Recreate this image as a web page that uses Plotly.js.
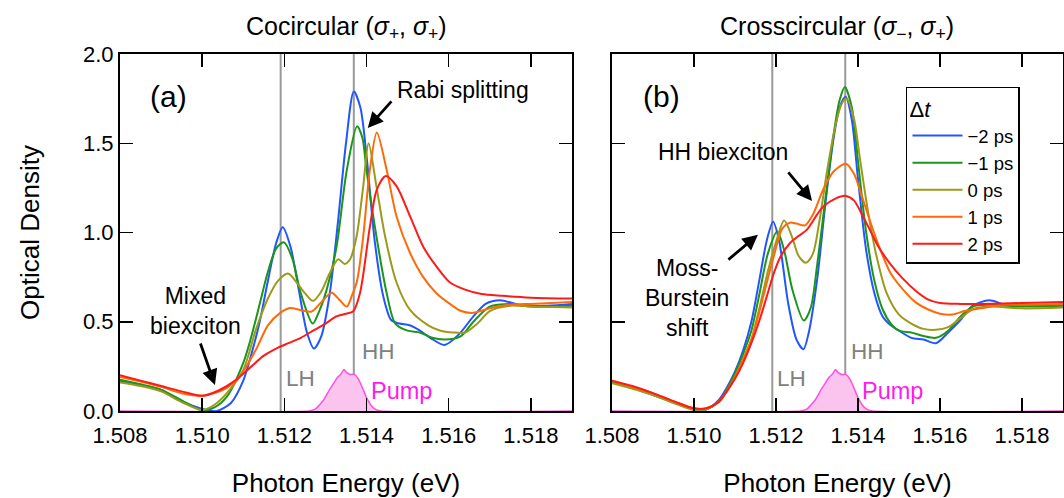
<!DOCTYPE html>
<html>
<head>
<meta charset="utf-8">
<script src="https://cdn.plot.ly/plotly-3.0.1.min.js"></script>
<style>html,body{margin:0;padding:0;background:#fff;}#chart{width:1064px;height:498px;}</style>
</head>
<body>
<div id="chart"></div>
<script>
// ---------- data (photon energy in eV, optical density) ----------
const seriesLabels = ['\u22122 ps', '\u22121 ps', '0 ps', '1 ps', '2 ps'];
const xTicks = [1.508, 1.510, 1.512, 1.514, 1.516, 1.518];
const yTicks = [0, 0.5, 1.0, 1.5, 2.0];
const exciton = [1.51191, 1.51369];          // LH, HH line energies
const excitonLabels = ['LH', 'HH'];

// Panel (a) cocircular
const aE_m2 = [1.5080,1.5085,1.5090,1.5095,1.5100,1.51035,1.5107,1.5110,1.5112,1.5114,1.5116,1.5118,1.51196,1.51215,1.51235,1.51255,1.51272,1.5129,1.5131,1.5133,1.5135,1.51369,1.51385,1.5140,1.5142,1.51441,1.5146,1.5148,1.51505,1.5153,1.51555,1.5159,1.51625,1.5166,1.5169,1.51725,1.5178,1.5184,1.5190];
const aOD_m2 = [0.170,0.145,0.118,0.055,0.012,0.000,0.045,0.170,0.320,0.500,0.730,0.940,1.030,0.920,0.680,0.440,0.350,0.420,0.650,1.050,1.500,1.790,1.700,1.430,0.950,0.640,0.510,0.490,0.480,0.450,0.410,0.370,0.430,0.530,0.600,0.620,0.590,0.590,0.600];
const aE_m1 = [1.5080,1.5085,1.5090,1.5095,1.5100,1.5103,1.5106,1.5110,1.5112,1.5114,1.5116,1.5118,1.51199,1.5122,1.5124,1.51269,1.51285,1.51303,1.51327,1.51352,1.51377,1.5139,1.5140,1.51424,1.51449,1.5147,1.5150,1.5153,1.5156,1.5159,1.5163,1.5166,1.5170,1.5175,1.5180,1.5190];
const aOD_m1 = [0.175,0.15,0.12,0.06,0.005,0.02,0.08,0.27,0.42,0.60,0.78,0.91,0.945,0.85,0.66,0.49,0.56,0.68,0.92,1.35,1.595,1.53,1.35,0.98,0.66,0.49,0.45,0.44,0.41,0.40,0.42,0.50,0.585,0.60,0.585,0.59];
const aE_0 = [1.5080,1.5085,1.5090,1.5095,1.5100,1.5103,1.5106,1.5110,1.5113,1.5116,1.51185,1.51209,1.5123,1.5125,1.5127,1.5129,1.5131,1.51331,1.51347,1.5136,1.51376,1.51392,1.51405,1.51424,1.51445,1.51473,1.51506,1.5155,1.5158,1.5161,1.5164,1.5167,1.5170,1.5175,1.5180,1.5190];
const aOD_0 = [0.16,0.14,0.11,0.05,0.005,0.035,0.10,0.23,0.45,0.63,0.73,0.77,0.72,0.66,0.617,0.67,0.77,0.85,0.824,0.85,0.98,1.26,1.50,1.26,0.98,0.72,0.566,0.48,0.45,0.44,0.44,0.49,0.56,0.59,0.585,0.58];
const aE_p1 = [1.5080,1.5085,1.5090,1.5095,1.5100,1.5103,1.5106,1.5109,1.5113,1.5116,1.5119,1.51214,1.5124,1.51266,1.5129,1.51315,1.51335,1.51352,1.51365,1.51377,1.51392,1.51408,1.51425,1.51449,1.51473,1.51506,1.51538,1.5157,1.51603,1.5163,1.5166,1.5170,1.5175,1.5180,1.5190];
const aOD_p1 = [0.19,0.165,0.135,0.10,0.085,0.10,0.13,0.19,0.34,0.48,0.55,0.577,0.565,0.557,0.61,0.663,0.62,0.585,0.65,0.73,0.98,1.35,1.56,1.35,1.09,0.885,0.75,0.66,0.60,0.56,0.55,0.575,0.595,0.60,0.61];
const aE_p2 = [1.5080,1.5085,1.5090,1.5095,1.5100,1.5104,1.5108,1.5112,1.5115,1.5118,1.5121,1.5124,1.5127,1.5130,1.51327,1.5135,1.51367,1.51384,1.51408,1.51425,1.51447,1.51473,1.51506,1.51538,1.5157,1.51603,1.5164,1.5168,1.5173,1.5180,1.5190];
const aOD_p2 = [0.20,0.17,0.14,0.11,0.085,0.115,0.17,0.25,0.31,0.35,0.38,0.41,0.45,0.49,0.53,0.545,0.557,0.66,1.03,1.24,1.317,1.26,1.09,0.92,0.81,0.72,0.68,0.655,0.645,0.635,0.63];

// Panel (b) crosscircular
const bE_m2 = [1.5080,1.5085,1.5090,1.5095,1.5100,1.5103,1.5106,1.5108,1.5110,1.5112,1.5114,1.5116,1.51178,1.51193,1.51208,1.5123,1.5125,1.51267,1.5128,1.5130,1.5132,1.5134,1.51355,1.5137,1.51385,1.5140,1.5142,1.5144,1.5146,1.5148,1.5150,1.5153,1.5156,1.5159,1.5162,1.5165,1.5168,1.5172,1.5176,1.5182,1.5190];
const bOD_m2 = [0.165,0.13,0.09,0.05,0.01,0.01,0.06,0.13,0.22,0.34,0.50,0.74,0.96,1.06,0.95,0.60,0.40,0.346,0.44,0.73,1.15,1.52,1.70,1.76,1.63,1.30,0.90,0.66,0.53,0.48,0.45,0.41,0.40,0.38,0.44,0.51,0.59,0.62,0.595,0.59,0.595];
const bE_m1 = [1.5080,1.5085,1.5090,1.5095,1.5100,1.5103,1.5106,1.5108,1.5110,1.5112,1.5114,1.5116,1.5118,1.51203,1.5122,1.5124,1.51268,1.51285,1.5130,1.5132,1.5134,1.51355,1.51368,1.51385,1.5140,1.5142,1.5144,1.5146,1.5148,1.5150,1.5153,1.5156,1.5159,1.5162,1.5165,1.5168,1.5172,1.5180,1.5190];
const bOD_m1 = [0.16,0.13,0.095,0.05,0.01,0.01,0.05,0.12,0.21,0.32,0.45,0.66,0.88,1.005,0.90,0.68,0.507,0.58,0.81,1.18,1.54,1.74,1.815,1.70,1.40,1.00,0.73,0.57,0.49,0.45,0.44,0.42,0.41,0.45,0.53,0.585,0.595,0.585,0.59];
const bE_0 = [1.5080,1.5085,1.5090,1.5095,1.5100,1.5103,1.5106,1.5108,1.5110,1.5112,1.5114,1.5116,1.5118,1.51198,1.5122,1.5124,1.51255,1.51273,1.5129,1.51305,1.51325,1.51345,1.5136,1.51372,1.5139,1.51405,1.51425,1.51445,1.5147,1.5150,1.5153,1.5156,1.5159,1.5162,1.5165,1.5168,1.5172,1.5180,1.5190];
const bOD_0 = [0.155,0.125,0.09,0.045,0.005,0.01,0.05,0.11,0.19,0.29,0.40,0.58,0.78,0.93,1.067,0.97,0.87,0.83,0.88,1.05,1.35,1.60,1.72,1.75,1.64,1.41,1.11,0.87,0.66,0.54,0.49,0.46,0.455,0.47,0.52,0.57,0.585,0.575,0.58];
const bE_p1 = [1.5080,1.5085,1.5090,1.5095,1.5100,1.5103,1.5106,1.5108,1.5110,1.5112,1.5114,1.5116,1.5118,1.51195,1.51215,1.51234,1.5125,1.51271,1.5129,1.51315,1.5134,1.5137,1.5139,1.5141,1.5143,1.5145,1.5148,1.5151,1.5154,1.5157,1.5160,1.5163,1.5166,1.5170,1.5175,1.5180,1.5190];
const bOD_p1 = [0.17,0.135,0.10,0.055,0.015,0.015,0.05,0.11,0.19,0.29,0.40,0.56,0.74,0.87,1.02,1.055,1.05,1.04,1.10,1.24,1.34,1.385,1.33,1.20,1.06,0.93,0.77,0.68,0.61,0.57,0.545,0.54,0.56,0.575,0.595,0.595,0.60];
const bE_p2 = [1.5080,1.5085,1.5090,1.5095,1.5100,1.5103,1.5106,1.5108,1.5110,1.5112,1.5114,1.5116,1.5118,1.51193,1.5121,1.51234,1.51255,1.51275,1.5130,1.51315,1.51345,1.5137,1.5139,1.5141,1.5143,1.5145,1.5148,1.5151,1.5154,1.5157,1.5160,1.5165,1.5170,1.5180,1.5190];
const bOD_p2 = [0.17,0.14,0.10,0.055,0.015,0.015,0.05,0.11,0.18,0.27,0.38,0.51,0.66,0.76,0.86,0.94,0.98,1.015,1.10,1.145,1.19,1.205,1.18,1.10,1.01,0.92,0.82,0.74,0.675,0.625,0.605,0.60,0.60,0.605,0.61];

// Pump spectrum (same in both panels)
const pumpE = [1.5080,1.5126,1.51275,1.51295,1.5131,1.5132,1.5133,1.51339,1.51345,1.51352,1.5136,1.5137,1.5138,1.5139,1.5140,1.5141,1.5142,1.51435,1.5190];
const pumpOD = [0,0,0.01,0.06,0.12,0.155,0.19,0.21,0.232,0.215,0.205,0.205,0.18,0.13,0.075,0.035,0.012,0,0];

// ---------- styling ----------
const FONT = 'Liberation Sans, Arial, Helvetica, sans-serif';
const colors = ['#2156ff', '#1b961b', '#9c9a1c', '#ff6a08', '#ff1a1a'];
const panelA = [[aE_m2,aOD_m2],[aE_m1,aOD_m1],[aE_0,aOD_0],[aE_p1,aOD_p1],[aE_p2,aOD_p2]];
const panelB = [[bE_m2,bOD_m2],[bE_m1,bOD_m1],[bE_0,bOD_0],[bE_p1,bOD_p1],[bE_p2,bOD_p2]];

const traces = [];
[['x','y'],['x2','y2']].forEach(([xa, ya]) => {
  traces.push({x: pumpE, y: pumpOD, xaxis: xa, yaxis: ya, type: 'scatter', mode: 'lines',
    fill: 'tozeroy', fillcolor: '#fbc4ee', line: {color: '#ff4fe0', width: 1.5, shape: 'spline', smoothing: 0.5},
    showlegend: false, hoverinfo: 'skip'});
});
panelA.forEach((s, i) => traces.push({x: s[0], y: s[1], xaxis: 'x', yaxis: 'y', type: 'scatter', mode: 'lines',
  name: seriesLabels[i], line: {color: colors[i], width: 2, shape: 'spline', smoothing: 0.8}, showlegend: false}));
panelB.forEach((s, i) => traces.push({x: s[0], y: s[1], xaxis: 'x2', yaxis: 'y2', type: 'scatter', mode: 'lines',
  name: seriesLabels[i], line: {color: colors[i], width: 2, shape: 'spline', smoothing: 0.8}, showlegend: true}));

const axBase = {showline: true, linecolor: 'black', linewidth: 2, mirror: 'ticks', ticks: 'inside',
  ticklen: 13, tickwidth: 1.5, tickcolor: 'black', showgrid: false, zeroline: false,
  tickfont: {family: FONT, size: 22, color: 'black'}};
const xBase = Object.assign({}, axBase, {range: [1.508, 1.519], tickvals: xTicks, tickformat: '.3f',
  ticklabelstandoff: 4,
  title: {text: 'Photon Energy (eV)', font: {family: FONT, size: 26, color: 'black'}, standoff: 26}});
const yBase = Object.assign({}, axBase, {range: [0, 2], tickvals: yTicks, tickformat: '.1f'});

const shapes = [];
['x','x2'].forEach(xa => exciton.forEach(e => shapes.push({type: 'line', xref: xa, yref: xa === 'x' ? 'y domain' : 'y2 domain',
  x0: e, x1: e, y0: 0, y1: 1, line: {color: '#999999', width: 2}, layer: 'below'})));

const ANN = 23;
const txt = (xa, ya, x, y, text, extra) => Object.assign({xref: xa, yref: ya, x: x, y: y, text: text, showarrow: false,
  xanchor: 'center', yanchor: 'middle', font: {family: FONT, size: ANN, color: 'black'}}, extra || {});
const arrow = (xa, ya, x, y, ax, ay) => ({xref: xa, yref: ya, x: x, y: y, ax: ax, ay: ay, text: '', showarrow: true,
  arrowhead: 2, arrowsize: 1.1, arrowwidth: 2.8, arrowcolor: 'black'});
const gray = {family: FONT, size: 22.5, color: '#808080'};
const pink = {family: FONT, size: 23.5, color: '#ff1ae8'};

const annotations = [
  txt('paper','paper', 0.2397, 1.0728, 'Cocircular (<i>\u03c3</i><sub>+</sub>, <i>\u03c3</i><sub>+</sub>)', {font: {family: FONT, size: 25, color: 'black'}}),
  txt('paper','paper', 0.7608, 1.0728, 'Crosscircular (<i>\u03c3</i><sub>\u2212</sub>, <i>\u03c3</i><sub>+</sub>)', {font: {family: FONT, size: 25, color: 'black'}}),
  txt('x','y', 1.50917, 1.76, '(a)', {font: {family: FONT, size: 30, color: 'black'}}),
  txt('x2','y2', 1.50920, 1.76, '(b)', {font: {family: FONT, size: 30, color: 'black'}}),
  txt('x','y', 1.51635, 1.80, 'Rabi splitting'),
  arrow('x','y', 1.51403, 1.586, 25, -28),
  txt('x','y', 1.50983, 0.56, 'Mixed<br>biexciton'),
  arrow('x','y', 1.51031, 0.146, -15, -43),
  txt('x2','y2', 1.51071, 1.45, 'HH biexciton'),
  arrow('x2','y2', 1.51288, 1.177, -25, -30),
  txt('x2','y2', 1.50983, 0.633, 'Moss-<br>Burstein<br>shift'),
  arrow('x2','y2', 1.51156, 0.987, -31, 26),
  txt('x','y', 1.51240, 0.18, excitonLabels[0], {font: gray}),
  txt('x','y', 1.51428, 0.336, excitonLabels[1], {font: gray}),
  txt('x','y', 1.51486, 0.112, 'Pump', {font: pink}),
  txt('x2','y2', 1.51239, 0.18, excitonLabels[0], {font: gray}),
  txt('x2','y2', 1.51424, 0.336, excitonLabels[1], {font: gray}),
  txt('x2','y2', 1.51483, 0.112, 'Pump', {font: pink})
];

const layout = {
  width: 1064, height: 498,
  margin: {l: 120, r: 1, t: 54, b: 87},
  paper_bgcolor: 'white', plot_bgcolor: 'white',
  font: {family: FONT, color: 'black'},
  xaxis: Object.assign({}, xBase, {domain: [0, 0.4793], anchor: 'y'}),
  xaxis2: Object.assign({}, xBase, {domain: [0.5217, 1], anchor: 'y2'}),
  yaxis: Object.assign({}, yBase, {domain: [0, 1], anchor: 'x',
    title: {text: 'Optical Density', font: {family: FONT, size: 26, color: 'black'}, standoff: 36}}),
  yaxis2: Object.assign({}, yBase, {domain: [0, 1], anchor: 'x2', showticklabels: false}),
  shapes: shapes,
  annotations: annotations,
  showlegend: true,
  legend: {x: 0.8335, y: 0.9076, xanchor: 'left', yanchor: 'top', bgcolor: 'white',
    bordercolor: 'black', borderwidth: 1.5, font: {family: FONT, size: 18.5, color: 'black'},
    title: {text: '\u0394<i>t</i>', font: {family: FONT, size: 22, color: 'black'}},
    tracegroupgap: 0, itemwidth: 50}
};

Plotly.newPlot('chart', traces, layout, {staticPlot: true, displayModeBar: false});
</script>
</body>
</html>
